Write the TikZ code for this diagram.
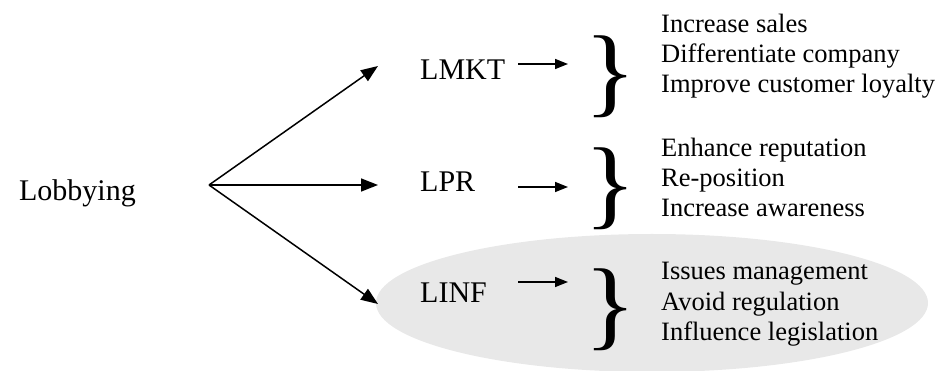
\documentclass[tikz,border=0pt]{standalone}
\usepackage{fontspec}
\setmainfont{Liberation Serif}
\usetikzlibrary{arrows.meta}
\definecolor{ellgray}{RGB}{232,232,232}
\tikzset{
  bigtxt/.style={font=\fontsize{30}{30}\selectfont, inner sep=0pt, anchor=base west},
  smalltxt/.style={font=\fontsize{26.5}{30}\selectfont, inner sep=0pt, anchor=base west},
  mainarrow/.style={line width=1.5pt, -{Triangle[length=17pt,width=13pt]}},
  smallarrow/.style={line width=1.5pt, -{Triangle[length=13pt,width=10pt]}},
  bracenode/.style={inner sep=0pt, anchor=center},
}
\newcommand{\bigbrace}{\resizebox*{52pt}{82pt}{\}}}
\begin{document}
\begin{tikzpicture}[x=1pt,y=-1pt]
\useasboundingbox (0,0) rectangle (938,371);
% highlight ellipse
\fill[ellgray] (652,303) ellipse [x radius=276, y radius=69];
% labels
\node[bigtxt, anchor=base east] (lob) at (136,201) {Lobbying};
\node[bigtxt] (lmkt) at (420,80) {LMKT};
\node[bigtxt] (lpr) at (420,192) {LPR};
\node[bigtxt] (linf) at (420,303) {LINF};
% fan of arrows
\coordinate (hub) at (209,185);
\coordinate (t1) at (378,66);
\coordinate (t2) at (378,185);
\coordinate (t3) at (378,304);
\draw[mainarrow] (hub) -- (t1);
\draw[mainarrow] (hub) -- (t2);
\draw[mainarrow] (hub) -- (t3);
% small arrows
\coordinate (a1s) at (518,64);  \coordinate (a1e) at (568,64);
\coordinate (a2s) at (518,187); \coordinate (a2e) at (568,187);
\coordinate (a3s) at (518,282); \coordinate (a3e) at (568,282);
\draw[smallarrow] (a1s) -- (a1e);
\draw[smallarrow] (a2s) -- (a2e);
\draw[smallarrow] (a3s) -- (a3e);
% braces
\node[bracenode] (b1) at (611,77) {\bigbrace};
\node[bracenode] (b2) at (611,189) {\bigbrace};
\node[bracenode] (b3) at (611,310) {\bigbrace};
% goal texts
\node[smalltxt] (g11) at (661,33) {Increase sales};
\node[smalltxt] (g12) at (661,63) {Differentiate company};
\node[smalltxt] (g13) at (661,93) {Improve customer loyalty};
\node[smalltxt] (g21) at (661,157) {Enhance reputation};
\node[smalltxt] (g22) at (661,187) {Re-position};
\node[smalltxt] (g23) at (661,217) {Increase awareness};
\node[smalltxt] (g31) at (661,280) {Issues management};
\node[smalltxt] (g32) at (661,311) {Avoid regulation};
\node[smalltxt] (g33) at (661,341) {Influence legislation};
\end{tikzpicture}
\end{document}
